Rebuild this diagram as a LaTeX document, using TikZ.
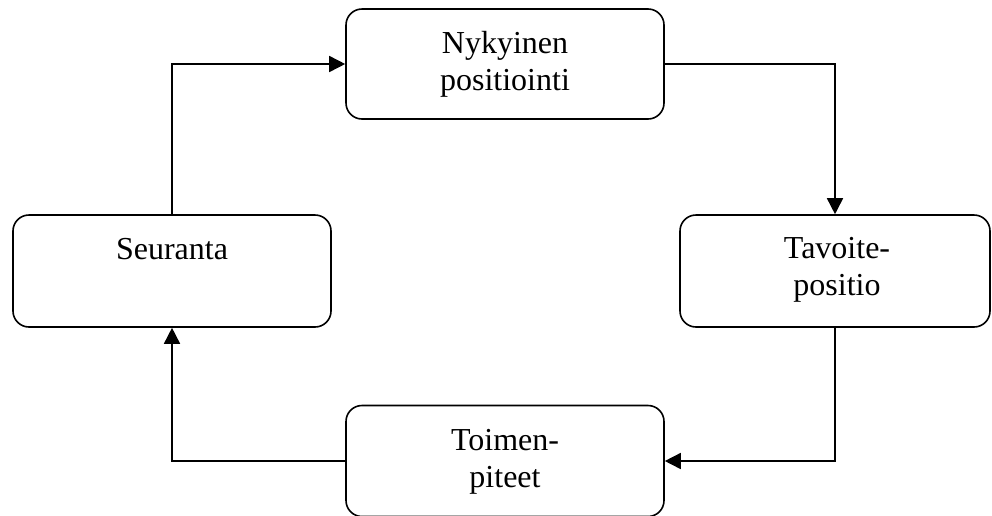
\documentclass[tikz,border=0pt]{standalone}
\usepackage{fontspec}
\setmainfont{Liberation Serif}
\usetikzlibrary{arrows.meta}
\begin{document}
\begin{tikzpicture}[x=1pt,y=-1pt,
  box/.style={draw,line width=1.6pt,rounded corners=16pt},
  lbl/.style={anchor=base,inner sep=0pt,font=\fontsize{32}{37}\selectfont},
  conn/.style={line width=1.6pt,-{Triangle[length=16pt,width=16pt]}}]
\useasboundingbox (0,0) rectangle (992,515);
\node[box,minimum width=318pt,minimum height=110pt,inner sep=0pt] (top) at (505,64) {};
\node[box,minimum width=310pt,minimum height=112pt,inner sep=0pt] (right) at (835,271) {};
\node[box,minimum width=318pt,minimum height=112pt,inner sep=0pt] (left) at (172,271) {};
\node[box,minimum width=318pt,minimum height=111pt,inner sep=0pt] (bottom) at (505,461) {};
\node[lbl] (t1) at (505,53) {Nykyinen};
\node[lbl] (t2) at (505,90) {positiointi};
\node[lbl] (r1) at (837,258) {Tavoite-};
\node[lbl] (r2) at (837,295) {positio};
\node[lbl] (l1) at (172,259) {Seuranta};
\node[lbl] (b1) at (505,450) {Toimen-};
\node[lbl] (b2) at (505,487) {piteet};
\coordinate (c1) at (172,64);
\coordinate (c2) at (835,64);
\coordinate (c3) at (835,461);
\coordinate (c4) at (172,461);
\draw[conn] (left.north) -- (c1) -- (top.west);
\draw[conn] (top.east) -- (c2) -- (right.north);
\draw[conn] (right.south) -- (c3) -- (bottom.east);
\draw[conn] (bottom.west) -- (c4) -- (left.south);
\end{tikzpicture}
\end{document}
